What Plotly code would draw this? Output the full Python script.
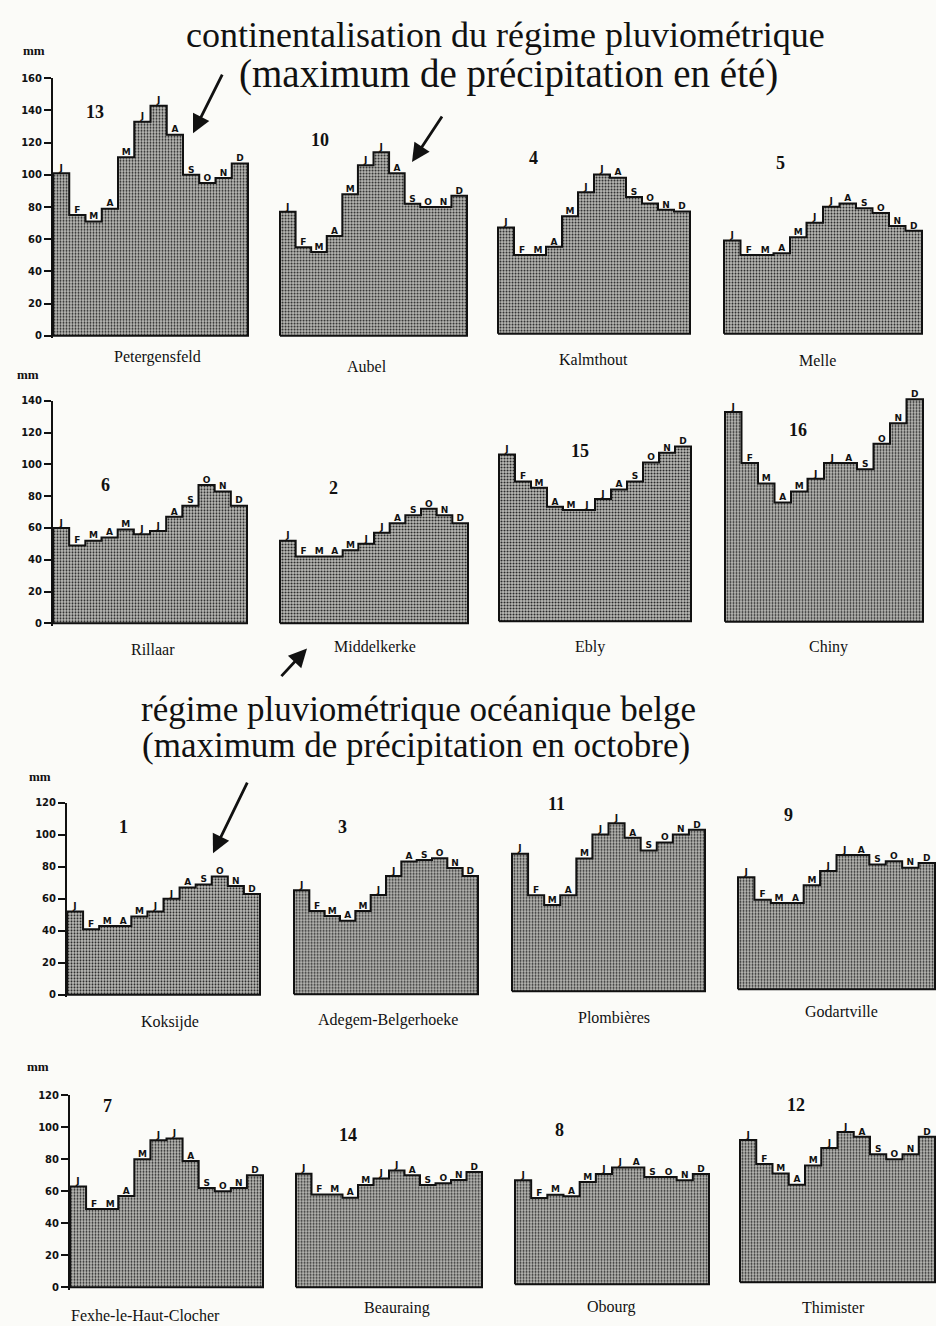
import plotly.graph_objects as go

# ---------------- data (mm, monthly precipitation) ----------------
months = ["J", "F", "M", "A", "M", "J", "J", "A", "S", "O", "N", "D"]

petergensfeld = [101, 75, 71, 79, 111, 133, 143, 125, 100, 95, 98, 107]
aubel = [77, 55, 52, 62, 88, 106, 114, 101, 82, 80, 80, 87]
kalmthout = [66, 49, 49, 54, 73, 88, 99, 97, 85, 81, 77, 76]
melle = [58, 49, 49, 50, 60, 69, 79, 81, 78, 75, 67, 64]

rillaar = [60, 49, 52, 54, 59, 56, 58, 67, 74, 87, 83, 74]
middelkerke = [52, 42, 42, 42, 46, 50, 57, 63, 68, 72, 68, 63]
ebly = [105, 88, 84, 72, 70, 70, 77, 83, 88, 100, 106, 110]
chiny = [132, 100, 87, 75, 82, 90, 100, 100, 96, 112, 125, 140]

koksijde = [52, 41, 43, 43, 49, 52, 60, 67, 69, 74, 68, 63]
adegem = [65, 52, 49, 46, 52, 62, 74, 83, 84, 85, 79, 74]
plombieres = [86, 60, 54, 60, 83, 98, 105, 96, 88, 93, 98, 101]
godartville = [70, 56, 54, 54, 65, 74, 84, 84, 78, 80, 76, 79]

fexhe = [63, 49, 49, 57, 80, 92, 93, 79, 62, 60, 62, 70]
beauraing = [71, 58, 58, 56, 64, 68, 73, 70, 64, 65, 67, 72]
obourg = [65, 54, 56, 55, 64, 69, 73, 73, 67, 67, 65, 69]
thimister = [89, 74, 68, 61, 73, 84, 94, 91, 80, 77, 80, 91]

series = [petergensfeld, aubel, kalmthout, melle,
          rillaar, middelkerke, ebly, chiny,
          koksijde, adegem, plombieres, godartville,
          fexhe, beauraing, obourg, thimister]

station_names = ["Petergensfeld", "Aubel", "Kalmthout", "Melle",
                 "Rillaar", "Middelkerke", "Ebly", "Chiny",
                 "Koksijde", "Adegem-Belgerhoeke", "Plombières", "Godartville",
                 "Fexhe-le-Haut-Clocher", "Beauraing", "Obourg", "Thimister"]
station_numbers = ["13", "10", "4", "5",
                   "6", "2", "15", "16",
                   "1", "3", "11", "9",
                   "7", "14", "8", "12"]
row_axis_max = [160, 140, 120, 120]
tick_step = 20

# ---------------- layout geometry (pixels in a 936 x 1326 page) ----------------
W, H = 936, 1326
# x0, x1, baseline y, px per mm
boxes = [
    (53, 248, 332, 1.62), (280, 467, 332, 1.62), (498, 690, 330, 1.62), (724, 922, 330, 1.62),
    (53, 247, 621.5, 1.60), (280, 468, 621.5, 1.60), (499, 691, 619.5, 1.60), (725, 923, 620, 1.60),
    (67, 260, 995.5, 1.61), (294, 478, 995, 1.61), (512, 705, 992, 1.61), (738, 935, 990, 1.61),
    (70, 263, 1290, 1.61), (296, 482, 1290, 1.61), (515, 709, 1287, 1.61), (740, 935, 1285, 1.61),
]
number_pos = [(95, 107), (320, 135), (533, 153), (780, 158),
              (105, 482), (333, 485), (580, 448), (798, 427),
              (123, 827), (342, 827), (556, 803), (788, 815),
              (107, 1108), (348, 1137), (559, 1132), (796, 1107)]
name_pos = [(157, 353), (367, 363), (593, 356), (817, 357),
            (153, 648), (375, 645), (590, 645), (828, 645),
            (170, 1023), (388, 1021), (614, 1018), (841, 1012),
            (145, 1318), (397, 1311), (611, 1310), (833, 1310)]
mm_pos = [(34, 45), (28, 371), (40, 776), (38, 1068)]

serif = "Liberation Serif"
sans = "DejaVu Sans"

fig = go.Figure()
annotations = []

XPAD = 0.12
YPAD = 1.5

for k, vals in enumerate(series):
    row, col = divmod(k, 4)
    x0, x1, yb, ppm = boxes[k]
    top = row_axis_max[row] if col == 0 else row_axis_max[row] + 20
    pxu = (x1 - x0) / 12.0
    left_pad = 0 if col == 0 else XPAD
    dx0 = x0 - left_pad * pxu
    dx1 = min(x1 + XPAD * pxu, W)
    right_pad = (dx1 - x1) / pxu
    dyb = yb + YPAD * ppm
    dyt = yb - top * ppm
    ax_id = "" if k == 0 else str(k + 1)

    # closed step outline (hv): baseline -> up at x=0 -> steps -> down at x=12 -> baseline
    xs = [0] + list(range(0, 13)) + [12, 0]
    ys = [0] + vals + [vals[-1]] + [0, 0]

    fig.add_trace(go.Scatter(
        x=xs, y=ys, mode="lines", line=dict(shape="hv", color="#111", width=2),
        fill="toself", fillcolor="#9a9a9a",
        fillpattern=dict(shape=".", size=3, solidity=0.35, fgcolor="#202020",
                         bgcolor="#bcbcb8", fillmode="replace"),
        xaxis="x" + ax_id, yaxis="y" + ax_id, hoverinfo="skip", showlegend=False))
    fig.add_trace(go.Scatter(
        x=[i + 0.5 for i in range(12)], y=vals, text=months, mode="text",
        textposition="top center", cliponaxis=False,
        textfont=dict(family=sans, size=9, color="#111", weight="bold"),
        xaxis="x" + ax_id, yaxis="y" + ax_id, hoverinfo="skip", showlegend=False))

    xa = dict(domain=[max(dx0 / W, 0), min(dx1 / W, 1)], range=[-left_pad, 12 + right_pad],
              visible=False, fixedrange=True, anchor="y" + ax_id)
    ya = dict(domain=[1 - dyb / H, 1 - dyt / H], range=[-YPAD, top],
              fixedrange=True, anchor="x" + ax_id, showgrid=False, zeroline=False)
    if col == 0:
        ya.update(visible=True, showline=True, linecolor="#111", linewidth=2,
                  ticks="outside", ticklen=7, tickwidth=1.5, tickcolor="#111",
                  tickvals=list(range(0, top + 1, tick_step)),
                  tickfont=dict(family=sans, size=10, color="#111", weight="bold"))
    else:
        ya.update(visible=False)
    fig.layout["xaxis" + ax_id] = xa
    fig.layout["yaxis" + ax_id] = ya

    nx, ny = number_pos[k]
    annotations.append(dict(x=nx / W, y=1 - ny / H, xref="paper", yref="paper",
                            xanchor="center", yanchor="middle",
                            text=station_numbers[k], showarrow=False,
                            font=dict(family=serif, size=18, color="#111", weight="bold")))
    sx, sy = name_pos[k]
    annotations.append(dict(x=sx / W, y=1 - sy / H, xref="paper", yref="paper",
                            xanchor="center", yanchor="middle",
                            text=station_names[k], showarrow=False,
                            font=dict(family=serif, size=16, color="#111")))

for (mx, my) in mm_pos:
    annotations.append(dict(x=mx / W, y=1 - my / H, xref="paper", yref="paper",
                            xanchor="center", yanchor="middle",
                            text="mm", showarrow=False,
                            font=dict(family=serif, size=13, color="#111", weight="bold")))

# titles: text, centre x, centre y, font size
titles = [
    ("continentalisation du régime pluviométrique", 506, 29, 36),
    ("(maximum de précipitation en été)", 509, 68, 39),
    ("régime pluviométrique océanique belge", 418, 708, 35),
    ("(maximum de précipitation en octobre)", 416, 745, 35),
]
for txt, tx, ty, fs in titles:
    annotations.append(dict(x=tx / W, y=1 - ty / H, xref="paper", yref="paper",
                            xanchor="center", yanchor="middle",
                            text=txt, showarrow=False,
                            font=dict(family=serif, size=fs, color="#111")))

# arrows: (head x, head y, tail x, tail y)
arrows = [(193, 128, 223, 68), (412, 157, 443, 110), (307, 647, 280, 676), (213, 853, 248, 781)]
for hx, hy, tx, ty in arrows:
    annotations.append(dict(x=hx / W, y=1 - hy / H, xref="paper", yref="paper",
                            ax=tx - hx, ay=ty - hy, axref="pixel", ayref="pixel",
                            text="", showarrow=True, arrowhead=2, arrowsize=1.3,
                            arrowwidth=2.8, arrowcolor="#111"))

fig.update_layout(
    width=W, height=H, margin=dict(l=0, r=0, t=0, b=0),
    paper_bgcolor="#fbfbf8", plot_bgcolor="rgba(0,0,0,0)",
    annotations=annotations, showlegend=False,
)

fig.write_html("out.html", config={"displayModeBar": False})
